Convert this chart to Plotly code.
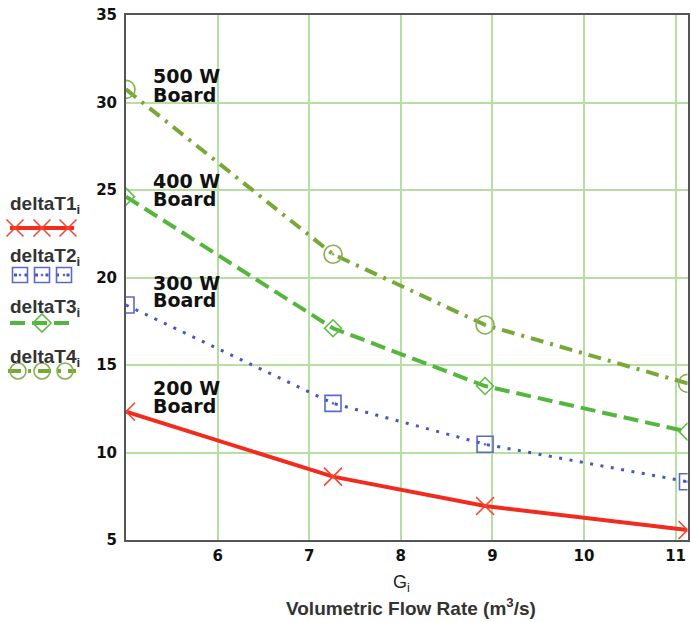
import plotly.graph_objects as go

W, H = 691, 622

# Volumetric flow rate G_i (m^3/s) and board temperature rise for each board power
flow_rate = [5.0, 7.26, 8.92, 11.13]
deltaT1 = [12.33, 8.62, 6.94, 5.57]    # 200 W board
deltaT2 = [18.43, 12.81, 10.47, 8.33]  # 300 W board
deltaT3 = [24.62, 17.10, 13.80, 11.19]  # 400 W board
deltaT4 = [30.75, 21.33, 17.29, 13.95]  # 500 W board

series_names = ["deltaT1", "deltaT2", "deltaT3", "deltaT4"]
series_values = [deltaT1, deltaT2, deltaT3, deltaT4]
board_powers = ["200 W", "300 W", "400 W", "500 W"]

x_ticks = [6, 7, 8, 9, 10, 11]
y_ticks = [5, 10, 15, 20, 25, 30, 35]

# ---- styling ---------------------------------------------------------------
styles = [
    dict(color="#f22b1f", mcolor="#f4482f", dash="solid", width=4,
         symbol="x-thin", size=18, mwidth=1.6),
    dict(color="#4657bd", mcolor="#5a6ac6", dash="3px,7.5px", width=3,
         symbol="square-open-dot", size=16, mwidth=1.6),
    dict(color="#55b63e", mcolor="#5fba48", dash="15px,7px", width=4,
         symbol="diamond-open", size=13, mwidth=1.6),
    dict(color="#78a838", mcolor="#86b04c", dash="13px,7px,3px,7px", width=4,
         symbol="circle-open-dot", size=18, mwidth=1.6),
]
GRID = "#b8dfa3"
FRAME = "#555555"

# plot area in pixels
PL, PR, PT, PB = 126, 687.5, 15, 540

fig = go.Figure()

for name, vals, st in zip(series_names, series_values, styles):
    fig.add_trace(go.Scatter(
        x=flow_rate, y=vals, name=name, mode="lines+markers",
        line=dict(color=st["color"], width=st["width"], dash=st["dash"]),
        marker=dict(symbol=st["symbol"], size=st["size"], color=st["mcolor"],
                    line=dict(color=st["mcolor"], width=st["mwidth"])),
        showlegend=False, cliponaxis=True,
    ))

# ---- hand-built legend on the left (pixel-unit helper axes) ----------------
LEG_W = 0.12 * W
legend_text_y = [201, 253, 304, 354]
legend_sample_y = [228, 275, 323, 371]
legend_marker_x = [
    [15, 42, 68],
    [20, 42, 64],
    [42],
    [18, 42, 65],
]
legend_line_x = [[10, 74], [14, 70], [10, 74], [8, 76]]
legend_symbols = ["x-thin", "square-open-dot", "diamond-open", "circle-open"]
legend_sizes = [17, 15, 14, 16]

for i, st in enumerate(styles):
    ys = legend_sample_y[i]
    fig.add_trace(go.Scatter(
        x=legend_line_x[i], y=[ys, ys], mode="lines", xaxis="x2", yaxis="y2",
        line=dict(color=st["color"], width=st["width"], dash=st["dash"]),
        showlegend=False, hoverinfo="skip", cliponaxis=False,
    ))
    fig.add_trace(go.Scatter(
        x=legend_marker_x[i], y=[ys] * len(legend_marker_x[i]), mode="markers",
        xaxis="x2", yaxis="y2",
        marker=dict(symbol=legend_symbols[i], size=legend_sizes[i], color=st["mcolor"],
                    line=dict(color=st["mcolor"], width=st["mwidth"])),
        showlegend=False, hoverinfo="skip", cliponaxis=False,
    ))

annotations = []
for i, name in enumerate(series_names):
    annotations.append(dict(
        x=8, y=legend_text_y[i], xref="x2", yref="y2",
        text=f"{name}<sub>i</sub>", showarrow=False,
        xanchor="left", yanchor="middle", yshift=-4,
        font=dict(family="Liberation Sans, Arial", size=19, color="#333333", weight="bold"),
    ))

# ---- board labels inside the plot -------------------------------------------
label_x = 5.27
label_y = {  # (power line, "Board" line) heights in data units
    "200 W": (13.66, 12.63),
    "300 W": (19.71, 18.71),
    "400 W": (25.49, 24.51),
    "500 W": (31.54, 30.43),
}
for p in board_powers:
    y1, y2 = label_y[p]
    for txt, yy in ((p, y1), ("Board", y2)):
        annotations.append(dict(
            x=label_x, y=yy, xref="x", yref="y", text=txt, showarrow=False,
            xanchor="left", yanchor="middle",
            font=dict(family="DejaVu Sans", size=19, color="#111111", weight="bold"),
        ))

# ---- axis titles ------------------------------------------------------------
annotations.append(dict(
    x=402 / W, y=1 - 583 / H, xref="paper", yref="paper",
    text="G<sub>i</sub>", showarrow=False, xanchor="center", yanchor="middle",
    font=dict(family="Liberation Sans, Arial", size=18, color="#222222"),
))
annotations.append(dict(
    x=411 / W, y=1 - 621 / H, xref="paper", yref="paper",
    text="Volumetric Flow Rate (m<sup>3</sup>/s)", showarrow=False,
    xanchor="center", yanchor="bottom",
    font=dict(family="Liberation Sans, Arial", size=19, color="#333333", weight="bold"),
))

tick_font = dict(family="DejaVu Sans", size=15, color="#111111", weight="bold")

fig.update_layout(
    width=W, height=H,
    margin=dict(l=0, r=0, t=0, b=0, autoexpand=False),
    paper_bgcolor="white", plot_bgcolor="white",
    showlegend=False,
    annotations=annotations,
    xaxis=dict(
        domain=[PL / W, PR / W], range=[5, 11.13],
        tickvals=x_ticks, ticktext=[str(v) for v in x_ticks],
        tickfont=tick_font, ticks="", ticklabelstandoff=1,
        showgrid=True, gridcolor=GRID, gridwidth=1.5,
        showline=True, linecolor=FRAME, linewidth=2, mirror=True,
        zeroline=False, fixedrange=True, automargin=False,
    ),
    yaxis=dict(
        domain=[1 - PB / H, 1 - PT / H], range=[5, 35],
        tickvals=y_ticks, ticktext=[str(v) for v in y_ticks],
        tickfont=tick_font, ticks="", ticklabelstandoff=4,
        showgrid=True, gridcolor=GRID, gridwidth=1.5,
        showline=True, linecolor=FRAME, linewidth=2, mirror=True,
        zeroline=False, fixedrange=True, automargin=False,
    ),
    xaxis2=dict(domain=[0, 0.12], range=[0, LEG_W], anchor="y2",
                visible=False, fixedrange=True),
    yaxis2=dict(domain=[0, 1], range=[H, 0], anchor="x2",
                visible=False, fixedrange=True),
)

fig.write_html("out.html")
